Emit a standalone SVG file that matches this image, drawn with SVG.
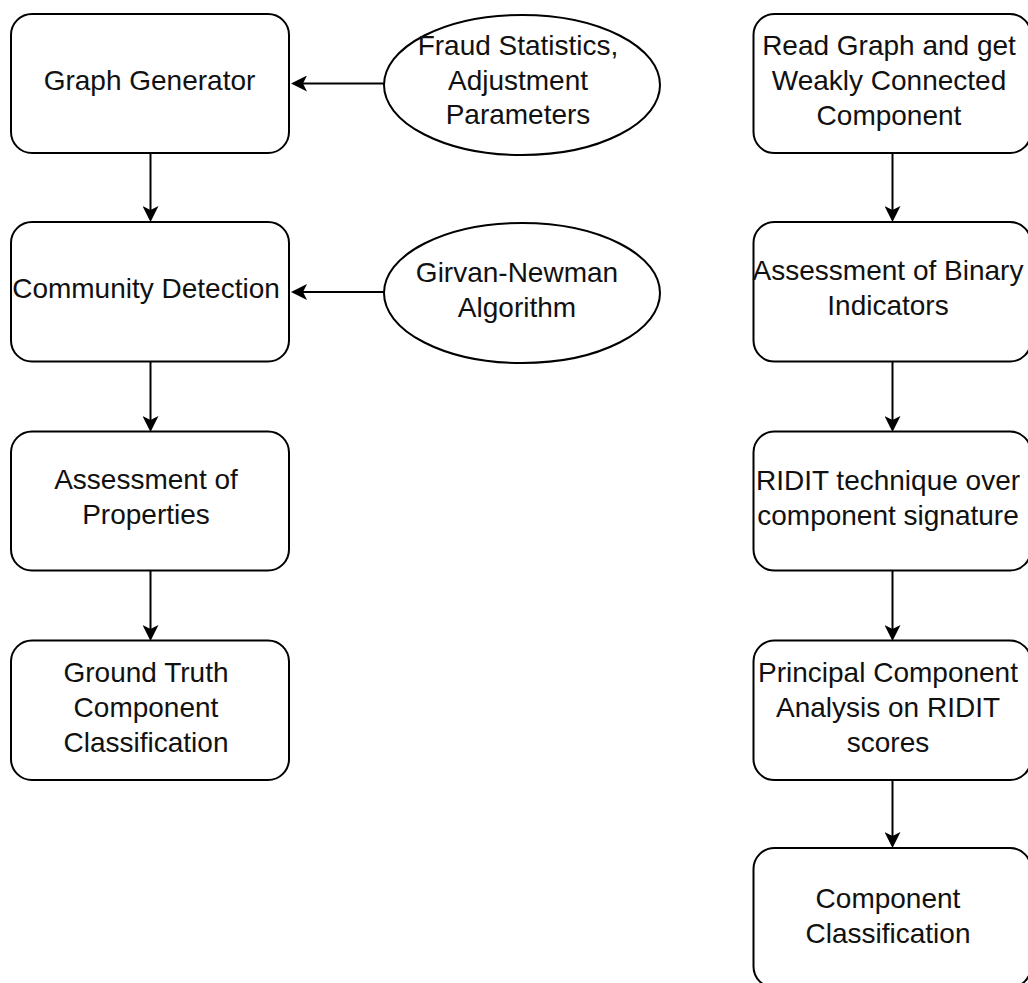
<svg xmlns="http://www.w3.org/2000/svg" width="1028" height="983" viewBox="0 0 1028 983">
<style>
.box{fill:#fff;stroke:#000;stroke-width:2}
.ell{fill:#fff;stroke:#000;stroke-width:2}
.edge{fill:none;stroke:#000;stroke-width:2}
text{font-family:"Liberation Sans",Arial,Helvetica,sans-serif;font-size:28px;fill:#111;text-anchor:middle}
</style>
<defs>
<marker id="arr" markerUnits="userSpaceOnUse" viewBox="0 0 16 16" markerWidth="16" markerHeight="16" refX="4" refY="8" orient="auto">
<path d="M0,0 L16,8 L0,16 L4,8 Z" fill="#000"/>
</marker>
</defs>
<rect width="1028" height="983" fill="#fff"/>
<g id="connectors">
<line class="edge" x1="384" y1="83.5" x2="303" y2="83.5" marker-end="url(#arr)"/>
<line class="edge" x1="384" y1="292" x2="303" y2="292" marker-end="url(#arr)"/>
<line class="edge" x1="150.5" y1="153" x2="150.5" y2="210" marker-end="url(#arr)"/>
<line class="edge" x1="150.5" y1="362" x2="150.5" y2="420" marker-end="url(#arr)"/>
<line class="edge" x1="150.5" y1="570" x2="150.5" y2="629" marker-end="url(#arr)"/>
<line class="edge" x1="892.5" y1="153" x2="892.5" y2="210" marker-end="url(#arr)"/>
<line class="edge" x1="892.5" y1="362" x2="892.5" y2="420" marker-end="url(#arr)"/>
<line class="edge" x1="892.5" y1="570" x2="892.5" y2="629" marker-end="url(#arr)"/>
<line class="edge" x1="892.5" y1="780" x2="892.5" y2="836" marker-end="url(#arr)"/>
</g>
<g id="graph-generator">
<rect class="box" x="11" y="14" width="278" height="139" rx="21"/>
<text x="149.5" y="89.5">Graph Generator</text>
</g>
<g id="fraud-statistics">
<ellipse class="ell" cx="522" cy="85" rx="138" ry="70"/>
<text x="518" y="55">Fraud Statistics,</text>
<text x="518" y="90">Adjustment</text>
<text x="518" y="124">Parameters</text>
</g>
<g id="community-detection">
<rect class="box" x="11" y="222" width="278" height="139.5" rx="21"/>
<text x="146" y="298">Community Detection</text>
</g>
<g id="girvan-newman">
<ellipse class="ell" cx="522" cy="293" rx="138" ry="70"/>
<text x="517" y="282">Girvan-Newman</text>
<text x="517" y="317">Algorithm</text>
</g>
<g id="assessment-properties">
<rect class="box" x="11" y="431.5" width="278" height="139" rx="21"/>
<text x="146" y="489">Assessment of</text>
<text x="146" y="524">Properties</text>
</g>
<g id="ground-truth">
<rect class="box" x="11" y="640.5" width="278" height="139.5" rx="21"/>
<text x="146" y="681.5">Ground Truth</text>
<text x="146" y="716.5">Component</text>
<text x="146" y="751.5">Classification</text>
</g>
<g id="read-graph">
<rect class="box" x="753.5" y="14" width="277.5" height="139" rx="21"/>
<text x="889" y="55">Read Graph and get</text>
<text x="889" y="90">Weakly Connected</text>
<text x="889" y="124.5">Component</text>
</g>
<g id="assessment-binary">
<rect class="box" x="753.5" y="222" width="277.5" height="139.5" rx="21"/>
<text x="888" y="280">Assessment of Binary</text>
<text x="888" y="315">Indicators</text>
</g>
<g id="ridit">
<rect class="box" x="753.5" y="431.5" width="277.5" height="139" rx="21"/>
<text x="888" y="489.5">RIDIT technique over</text>
<text x="888" y="524.5">component signature</text>
</g>
<g id="pca">
<rect class="box" x="753.5" y="640.5" width="277.5" height="139.5" rx="21"/>
<text x="888" y="681.5">Principal Component</text>
<text x="888" y="716.5">Analysis on RIDIT</text>
<text x="888" y="751.5">scores</text>
</g>
<g id="component-classification">
<rect class="box" x="753.5" y="848" width="277.5" height="139.5" rx="21"/>
<text x="888" y="907.5">Component</text>
<text x="888" y="942.5">Classification</text>
</g>
</svg>
